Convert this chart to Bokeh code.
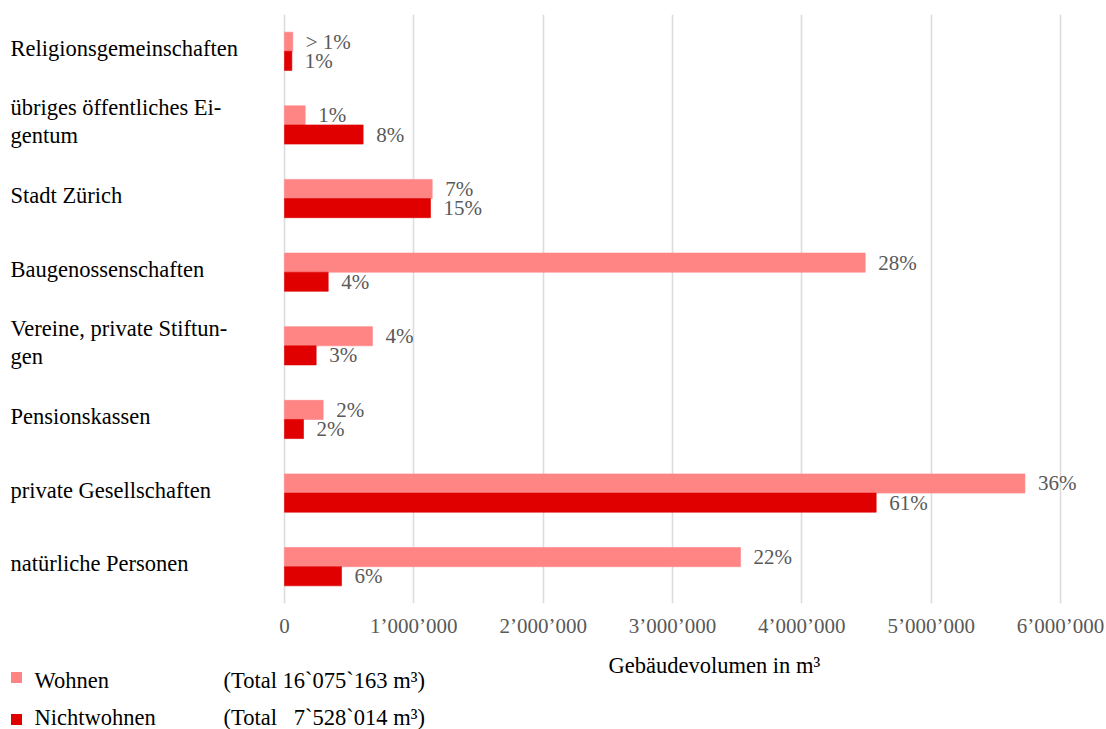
from bokeh.plotting import figure
from bokeh.models import Range1d, FactorRange, FixedTicker, ColumnDataSource
from bokeh.transform import dodge
from bokeh.layouts import column
from bokeh.embed import file_html
from bokeh.resources import INLINE
from bokeh.core.properties import value

# ---------------- data ----------------
categories = ["Religionsgemeinschaften", "übriges öffentliches Eigentum", "Stadt Zürich",
              "Baugenossenschaften", "Vereine, private Stiftungen", "Pensionskassen",
              "private Gesellschaften", "natürliche Personen"]
category_labels = ["Religionsgemeinschaften", "übriges öffentliches Ei-\ngentum", "Stadt Zürich",
                   "Baugenossenschaften", "Vereine, private Stiftun-\ngen", "Pensionskassen",
                   "private Gesellschaften", "natürliche Personen"]
wohnen = [64000, 160000, 1142000, 4490000, 680000, 299000, 5725000, 3526000]
nichtwohnen = [57000, 608000, 1129000, 338000, 245000, 147000, 4575000, 441000]
wohnen_pct = ["> 1%", "1%", "7%", "28%", "4%", "2%", "36%", "22%"]
nichtwohnen_pct = ["1%", "8%", "15%", "4%", "3%", "2%", "61%", "6%"]
tick_values = [0, 1000000, 2000000, 3000000, 4000000, 5000000, 6000000]
tick_labels = ["0", "1’000’000", "2’000’000", "3’000’000", "4’000’000", "5’000’000", "6’000’000"]
series_names = ["Wohnen", "Nichtwohnen"]
series_totals = ["(Total 16`075`163 m³)", "(Total\u00a0\u00a0\u00a07`528`014 m³)"]
x_title = "Gebäudevolumen in m³"

# ---------------- style ----------------
FONT = value("Liberation Serif")
C_W = "#FF8585"
C_N = "#E00000"
GRAY = "#595959"
W = 1106
px_per_unit = 776 / 6000000.0
x_start = -284 / px_per_unit
x_end = (W - 284) / px_per_unit

src = ColumnDataSource(dict(cat=categories, label=category_labels, w=wohnen, n=nichtwohnen,
                            wp=wohnen_pct, np_=nichtwohnen_pct,
                            lx=[x_start] * len(categories)))

y_range = FactorRange(factors=list(reversed(categories)), range_padding=0)
p = figure(width=W, height=650, x_range=Range1d(x_start, x_end), y_range=y_range,
           output_backend="svg", toolbar_location=None,
           min_border_left=0, min_border_right=0, min_border_top=14, min_border_bottom=47)
p.outline_line_color = None
p.yaxis.visible = False
p.ygrid.grid_line_color = None
p.xaxis.ticker = FixedTicker(ticks=tick_values)
p.xaxis.major_label_overrides = {v: s for v, s in zip(tick_values, tick_labels)}
p.xaxis.axis_line_color = None
p.xaxis.major_tick_line_color = None
p.xaxis.minor_tick_line_color = None
p.xaxis.major_tick_out = 0
p.xaxis.major_tick_in = 0
p.xaxis.major_label_standoff = 10
p.xaxis.major_label_text_font = "Liberation Serif"
p.xaxis.major_label_text_font_size = "21px"
p.xaxis.major_label_text_color = GRAY
p.xgrid.grid_line_color = "#DCDCDC"
p.xgrid.grid_line_width = 1.6

bh = 0.26
p.hbar(y=dodge("cat", bh / 2, range=y_range), right="w", left=0, height=bh, source=src,
       fill_color=C_W, line_color=C_W, line_alpha=0.6)
p.hbar(y=dodge("cat", -bh / 2, range=y_range), right="n", left=0, height=bh, source=src,
       fill_color=C_N, line_color=C_N, line_alpha=0.6)

p.text(x="w", y=dodge("cat", bh / 2, range=y_range), text="wp", source=src, x_offset=13,
       text_baseline="middle", text_align="left", text_font=FONT,
       text_font_size="21px", text_color=GRAY)
p.text(x="n", y=dodge("cat", -bh / 2, range=y_range), text="np_", source=src, x_offset=13,
       text_baseline="middle", text_align="left", text_font=FONT,
       text_font_size="21px", text_color=GRAY)

p.text(x="lx", y="cat", text="label", source=src, x_offset=10, y_offset=-3,
       text_baseline="middle", text_align="left", text_font=FONT,
       text_font_size="22.5px", text_color="#000000", text_line_height=1.12)

# ---------------- legend / axis title area ----------------
leg = figure(width=W, height=79, x_range=Range1d(0, W), y_range=Range1d(79, 0),
             output_backend="svg", toolbar_location=None,
             min_border_left=0, min_border_right=0, min_border_top=0, min_border_bottom=0)
leg.outline_line_color = None
leg.xaxis.visible = False
leg.yaxis.visible = False
leg.grid.visible = False

lsrc = ColumnDataSource(dict(name=series_names, total=series_totals, color=[C_W, C_N],
                             sx=[16, 16], sy=[27, 69], tx=[34, 34], ty=[29.5, 67],
                             ttx=[223, 223]))
leg.rect(x="sx", y="sy", width=11, height=11, fill_color="color", line_color=None, source=lsrc)
leg.text(x="tx", y="ty", text="name", source=lsrc, text_baseline="alphabetic",
         text_font=FONT, text_font_size="22.5px", text_color="#000000")
leg.text(x="ttx", y="ty", text="total", source=lsrc, text_baseline="alphabetic",
         text_font=FONT, text_font_size="22.5px", text_color="#000000")
leg.text(x=[608], y=[14.5], text=[x_title], text_baseline="alphabetic",
         text_font=FONT, text_font_size="22.5px", text_color="#000000")

layout = column(p, leg, spacing=0)
open("out.html", "w").write(file_html(layout, INLINE))
